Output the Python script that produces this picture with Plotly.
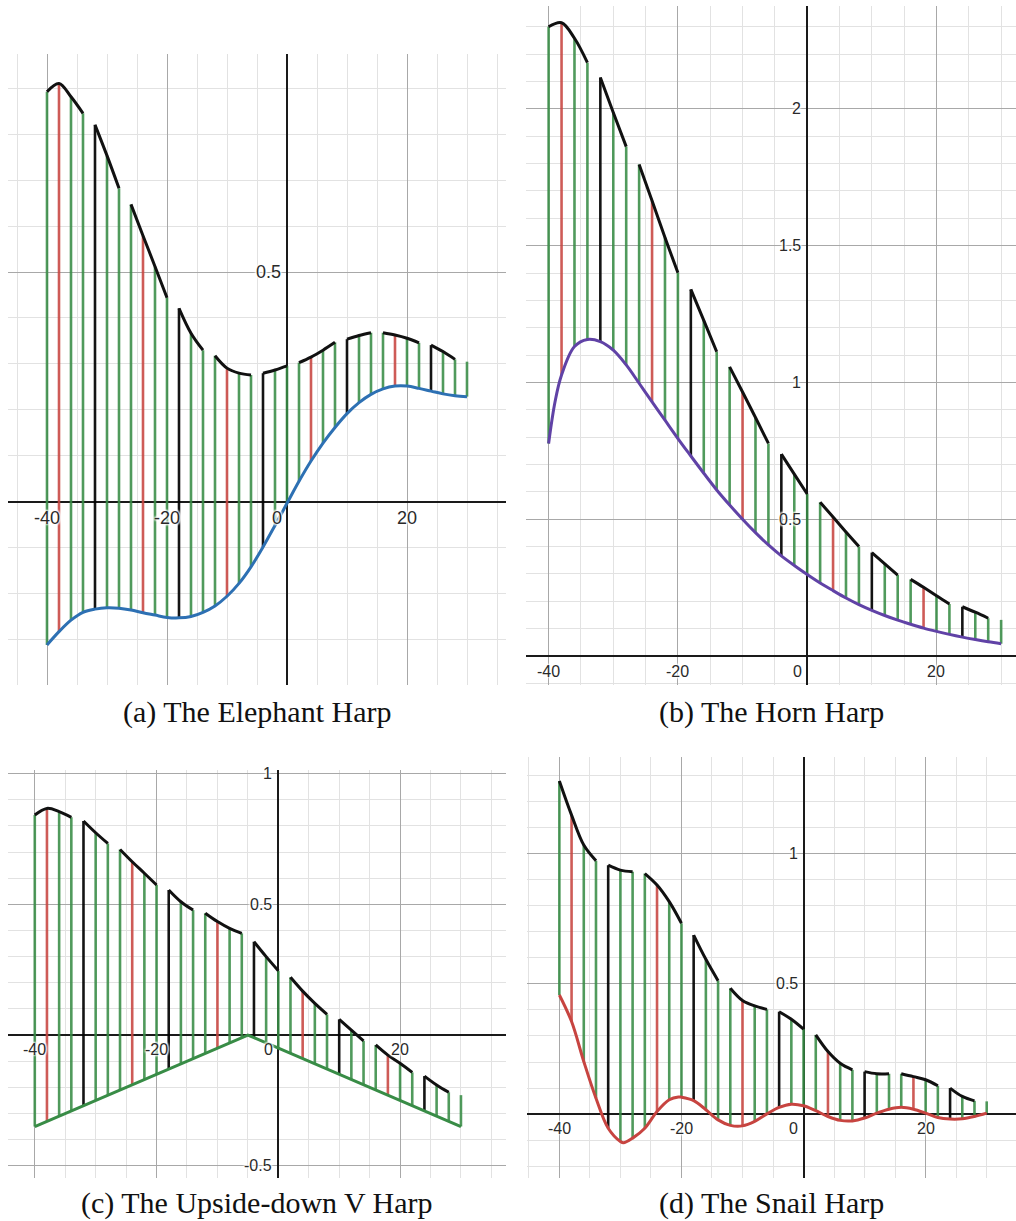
import plotly.graph_objects as go

# ---------------- data ----------------
STRING_X = list(range(-40, 31, 2))
STRING_KIND = ["g", "r", "g", "g", "k", "g", "g", "g", "r", "g", "g", "k",
               "g", "g", "g", "r", "g", "g", "k", "g", "g", "g", "r", "g",
               "g", "k", "g", "g", "g", "r", "g", "g", "k", "g", "g", "g"]
GROUP_SIZES = [4, 3, 4, 3, 4, 3, 4, 3, 4, 3, 1]

# (a) The Elephant Harp
A_TOP = [0.892, 0.910, 0.881, 0.845, 0.820, 0.753, 0.682, 0.647, 0.579, 0.512,
         0.444, 0.421, 0.367, 0.330, 0.318, 0.291, 0.280, 0.276, 0.280, 0.287,
         0.296, 0.303, 0.315, 0.330, 0.347, 0.354, 0.362, 0.368, 0.368, 0.363,
         0.356, 0.346, 0.341, 0.327, 0.310, 0.305]
A_BOTTOM = [-0.311, -0.282, -0.257, -0.240, -0.233, -0.230, -0.231, -0.235, -0.241,
            -0.246, -0.251, -0.252, -0.249, -0.240, -0.226, -0.205, -0.177, -0.141,
            -0.098, -0.051, -0.003, 0.045, 0.089, 0.128, 0.162, 0.192, 0.216, 0.234,
            0.246, 0.252, 0.252, 0.247, 0.241, 0.235, 0.231, 0.229]
A_CURVE_EXTRA = []

# (b) The Horn Harp
B_TOP = [2.300, 2.315, 2.258, 2.169, 2.115, 1.987, 1.862, 1.797, 1.664, 1.530,
         1.401, 1.340, 1.227, 1.112, 1.057, 0.965, 0.872, 0.777, 0.738, 0.665,
         0.592, 0.562, 0.508, 0.453, 0.400, 0.378, 0.337, 0.296, 0.280, 0.251,
         0.220, 0.190, 0.180, 0.160, 0.138, 0.132]
B_BOTTOM = [0.777, 1.027, 1.131, 1.157, 1.149, 1.118, 1.064, 0.997, 0.929, 0.862,
            0.795, 0.731, 0.668, 0.607, 0.552, 0.500, 0.451, 0.406, 0.366, 0.331,
            0.298, 0.267, 0.239, 0.212, 0.188, 0.167, 0.148, 0.131, 0.116, 0.102,
            0.090, 0.079, 0.069, 0.060, 0.052, 0.045]
B_CURVE_EXTRA = [(-39.0, 0.93)]

# (c) The Upside-down V Harp
C_TOP = [0.842, 0.867, 0.855, 0.833, 0.819, 0.774, 0.733, 0.710, 0.663, 0.619,
         0.574, 0.555, 0.510, 0.478, 0.466, 0.434, 0.408, 0.389, 0.357, 0.300,
         0.246, 0.221, 0.168, 0.121, 0.079, 0.060, 0.019, -0.022, -0.038, -0.077,
         -0.108, -0.143, -0.157, -0.191, -0.219, -0.230]
C_BOTTOM = [-0.35, -0.33, -0.31, -0.29, -0.27, -0.25, -0.23, -0.21, -0.19, -0.17,
            -0.15, -0.13, -0.11, -0.09, -0.07, -0.05, -0.03, -0.01, -0.01, -0.03,
            -0.05, -0.07, -0.09, -0.11, -0.13, -0.15, -0.17, -0.19, -0.21, -0.23,
            -0.25, -0.27, -0.29, -0.31, -0.33, -0.35]
C_CURVE_EXTRA = [(-5.0, 0.0)]

# (d) The Snail Harp
D_TOP = [1.278, 1.147, 1.032, 0.972, 0.955, 0.936, 0.930, 0.923, 0.879, 0.815,
         0.732, 0.687, 0.594, 0.512, 0.483, 0.436, 0.415, 0.402, 0.393, 0.364,
         0.326, 0.304, 0.240, 0.195, 0.170, 0.163, 0.155, 0.155, 0.155, 0.144,
         0.132, 0.109, 0.100, 0.068, 0.051, 0.049]
D_BOTTOM = [0.457, 0.355, 0.202, 0.061, -0.054, -0.105, -0.092, -0.054, 0.010, 0.055,
            0.065, 0.052, 0.017, -0.022, -0.043, -0.045, -0.028, 0.001, 0.026, 0.038,
            0.032, 0.013, -0.009, -0.024, -0.026, -0.015, 0.004, 0.019, 0.026, 0.019,
            0.004, -0.013, -0.019, -0.018, -0.009, 0.004]
D_CURVE_EXTRA = [(-29.5, -0.110), (-20.5, 0.066)]

X_TICKS = [-40, -20, 0, 20]
A_Y_TICKS = [0.5]
B_Y_TICKS = [0.5, 1, 1.5, 2]
C_Y_TICKS = [1, 0.5, -0.5]
D_Y_TICKS = [0.5, 1]

CAPTIONS = ["(a) The Elephant Harp", "(b) The Horn Harp",
            "(c) The Upside-down V Harp", "(d) The Snail Harp"]

# ---------------- styling / layout ----------------
W, H = 1016, 1221
KIND_COLOR = {"g": "rgba(56,140,70,0.88)", "r": "rgba(199,68,64,0.88)", "k": "rgba(0,0,0,0.92)"}

panels = [
    dict(top=A_TOP, bot=A_BOTTOM, extra=A_CURVE_EXTRA, yt=A_Y_TICKS, curve_color="#2d70b3",
         shape="spline", px=(8, 506), py=(54, 685), xr=(-46.5, 36.5), yr=(-0.398, 0.974),
         fs=18, xlab_dy=-16, cap_y=712),
    dict(top=B_TOP, bot=B_BOTTOM, extra=B_CURVE_EXTRA, yt=B_Y_TICKS, curve_color="#6042a6",
         shape="spline", px=(526, 1016), py=(6, 685), xr=(-43.5, 32.3), yr=(-0.106, 2.376),
         fs=16, xlab_dy=-15, cap_y=712),
    dict(top=C_TOP, bot=C_BOTTOM, extra=C_CURVE_EXTRA, yt=C_Y_TICKS, curve_color="#388c46",
         shape="linear", px=(8, 506), py=(770, 1178), xr=(-44.4, 37.4), yr=(-0.547, 1.014),
         fs=16, xlab_dy=-14, cap_y=1203),
    dict(top=D_TOP, bot=D_BOTTOM, extra=D_CURVE_EXTRA, yt=D_Y_TICKS, curve_color="#c74440",
         shape="spline", px=(527, 1016), py=(757, 1178), xr=(-45.3, 34.8), yr=(-0.245, 1.370),
         fs=16, xlab_dy=-14, cap_y=1203),
]

fig = go.Figure()
layout = dict(width=W, height=H, margin=dict(l=0, r=0, t=0, b=0),
              paper_bgcolor="white", plot_bgcolor="white", showlegend=False)
annotations = []


def fmt(v):
    return "%g" % v


for i, p in enumerate(panels):
    n = "" if i == 0 else str(i + 1)
    xa, ya = "x" + n, "y" + n
    xdom = [p["px"][0] / W, p["px"][1] / W]
    ydom = [1 - p["py"][1] / H, 1 - p["py"][0] / H]
    common = dict(showgrid=True, gridcolor="#a8a8a8", gridwidth=1, tick0=0,
                  zeroline=True, zerolinecolor="#1a1a1a", zerolinewidth=1.6,
                  showticklabels=False, ticks="", showline=False, fixedrange=True)
    layout["xaxis" + n] = dict(domain=xdom, range=list(p["xr"]), anchor=ya, dtick=20,
                               minor=dict(dtick=5, tick0=0, showgrid=True, gridcolor="#e2e2e2", gridwidth=1),
                               **common)
    layout["yaxis" + n] = dict(domain=ydom, range=list(p["yr"]), anchor=xa, dtick=0.5,
                               minor=dict(dtick=0.1, tick0=0, showgrid=True, gridcolor="#e2e2e2", gridwidth=1),
                               **common)

    # strings
    for kind in ["g", "r", "k"]:
        xs, ys = [], []
        for x, k, b, t in zip(STRING_X, STRING_KIND, p["bot"], p["top"]):
            if k == kind:
                xs += [x, x, None]
                ys += [b, t, None]
        fig.add_trace(go.Scatter(x=xs, y=ys, mode="lines", xaxis=xa, yaxis=ya,
                                 line=dict(color=KIND_COLOR[kind], width=2.6),
                                 hoverinfo="skip"))

    # bottom curve
    pts = sorted(list(zip(STRING_X, p["bot"])) + list(p["extra"]))
    fig.add_trace(go.Scatter(x=[q[0] for q in pts], y=[q[1] for q in pts], mode="lines",
                             xaxis=xa, yaxis=ya,
                             line=dict(color=p["curve_color"], width=3, shape=p["shape"], smoothing=1.0),
                             hoverinfo="skip"))

    # top (neck) curves per group
    xs, ys = [], []
    start = 0
    for g in GROUP_SIZES:
        if g > 1:
            xs += STRING_X[start:start + g] + [None]
            ys += p["top"][start:start + g] + [None]
        start += g
    fig.add_trace(go.Scatter(x=xs, y=ys, mode="lines", xaxis=xa, yaxis=ya, connectgaps=False,
                             line=dict(color="#111111", width=3, shape="spline", smoothing=1.0),
                             hoverinfo="skip"))

    halo = "1px 1px 2px white, -1px -1px 2px white, 1px -1px 2px white, -1px 1px 2px white"
    font = dict(family="Liberation Sans, Arial, sans-serif", size=p["fs"], color="#2a2a2a", shadow=halo)
    for t in X_TICKS:
        annotations.append(dict(x=t, y=0, xref=xa, yref=ya, text=fmt(t), showarrow=False,
                                xanchor="center", yanchor="middle",
                                xshift=(-10 if t == 0 else 0), yshift=p["xlab_dy"], font=font))
    for t in p["yt"]:
        annotations.append(dict(x=0, y=t, xref=xa, yref=ya, text=fmt(t), showarrow=False,
                                xanchor="right", yanchor="middle", xshift=-4, font=font))

    annotations.append(dict(x=(xdom[0] + xdom[1]) / 2, y=1 - p["cap_y"] / H, xref="paper", yref="paper",
                            text=CAPTIONS[i], showarrow=False, xanchor="center", yanchor="middle",
                            font=dict(family="Liberation Serif, Times New Roman, serif", size=30, color="#111")))

layout["annotations"] = annotations
fig.update_layout(**layout)
fig.write_html("out.html", config={"displayModeBar": False},
               post_script="document.body.style.margin='0';document.body.style.padding='0';"
                           "document.documentElement.style.overflow='hidden';")
